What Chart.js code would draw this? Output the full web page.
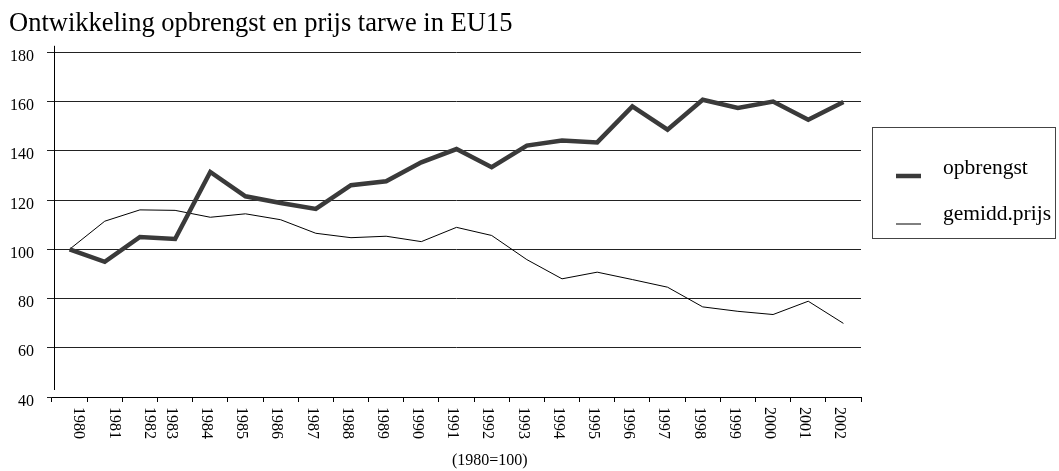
<!DOCTYPE html>
<html>
<head>
<meta charset="utf-8">
<script src="https://cdn.jsdelivr.net/npm/chart.js@4.4.1/dist/chart.umd.min.js"></script>
<style>
    html, body { margin: 0; padding: 0; background: #fff; }
    #wrap { position: relative; width: 1059px; height: 471px; }
</style>
</head>
<body>
<div id="wrap"><canvas id="chart"></canvas></div>
<script>
const years = ['1980', '1981', '1982', '1983', '1984', '1985', '1986', '1987', '1988', '1989', '1990', '1991',
    '1992', '1993', '1994', '1995', '1996', '1997', '1998', '1999', '2000', '2001', '2002'];
const opbrengst = [100, 94.9, 105.0, 104.2, 131.4, 121.5, 118.8, 116.4, 126.0, 127.6, 135.3, 140.7,
    133.3, 142.1, 144.2, 143.4, 158.0, 148.6, 160.7, 157.4, 160.0, 152.6, 159.8];
const prijs = [100, 111.4, 116.0, 115.8, 113.0, 114.4, 112.0, 106.5, 104.7, 105.3, 103.1, 108.9,
    105.6, 95.8, 88.0, 90.7, 87.7, 84.6, 76.6, 74.8, 73.5, 78.9, 69.9];
const yTicks = [40, 60, 80, 100, 120, 140, 160, 180];
const seriesNames = ['opbrengst', 'gemidd.prijs'];

const SERIF = '"Liberation Serif", "DejaVu Serif", serif';

// axis line, tick labels, legend and footnote drawn by hand to match the Excel look
const excelDecor = {
    id: 'excelDecor',
    afterDraw(chart) {
        const { ctx, chartArea, scales } = chart;
        const x = scales.x, y = scales.y;
        ctx.save();

        // vertical axis, slightly inset and shorter than the plot area
        ctx.strokeStyle = '#000';
        ctx.lineWidth = 1;
        ctx.beginPath();
        ctx.moveTo(chartArea.left + 2.5, chartArea.top - 6.5);
        ctx.lineTo(chartArea.left + 2.5, chartArea.bottom - 7);
        ctx.stroke();

        ctx.fillStyle = '#000';
        ctx.font = '16px ' + SERIF;

        // y labels
        ctx.textAlign = 'right';
        ctx.textBaseline = 'middle';
        yTicks.forEach(v => {
            ctx.fillText(String(v), 34, y.getPixelForValue(v) + 4.5);
        });

        // x labels, rotated clockwise
        years.forEach((yr, i) => {
            const dx = i < 3 ? 9 : -4;
            ctx.save();
            ctx.translate(x.getPixelForValue(i) + dx, chartArea.bottom + 10);
            ctx.rotate(Math.PI / 2);
            ctx.textAlign = 'left';
            ctx.textBaseline = 'middle';
            ctx.fillText(yr, 0, 0);
            ctx.restore();
        });

        // footnote
        ctx.textAlign = 'left';
        ctx.textBaseline = 'middle';
        ctx.fillText('(1980=100)', 452, 461);

        // legend
        ctx.strokeStyle = '#444';
        ctx.lineWidth = 1;
        ctx.strokeRect(872.5, 127.5, 183, 111);
        const rows = [176, 224];
        const baselines = [173.5, 220];
        ctx.font = '21.5px ' + SERIF;
        ctx.textBaseline = 'alphabetic';
        chart.data.datasets.forEach((ds, i) => {
            ctx.strokeStyle = ds.borderColor;
            ctx.lineWidth = ds.borderWidth;
            ctx.beginPath();
            ctx.moveTo(896, rows[i]);
            ctx.lineTo(921, rows[i]);
            ctx.stroke();
            ctx.fillStyle = '#000';
            ctx.fillText(ds.label, 943, baselines[i]);
        });

        ctx.restore();
    }
};

new Chart(document.getElementById('chart'), {
    type: 'line',
    data: {
        labels: years,
        datasets: [
            {
                label: seriesNames[0],
                data: opbrengst,
                borderColor: '#3a3a3a',
                borderWidth: 4.5,
                pointRadius: 0,
                tension: 0,
                borderJoinStyle: 'miter'
            },
            {
                label: seriesNames[1],
                data: prijs,
                borderColor: '#000',
                borderWidth: 1,
                pointRadius: 0,
                tension: 0
            }
        ]
    },
    options: {
        responsive: true,
        maintainAspectRatio: false,
        animation: false,
        layout: { padding: { top: 0, right: 198, bottom: 0, left: 9 } },
        plugins: {
            legend: { display: false },
            tooltip: { enabled: false },
            title: {
                display: true,
                text: 'Ontwikkeling opbrengst en prijs tarwe in EU15',
                align: 'start',
                color: '#000',
                font: { family: SERIF, size: 26.5, weight: 'normal', lineHeight: 1.2 },
                padding: { top: 8.5, bottom: 12 }
            }
        },
        scales: {
            x: {
                type: 'category',
                offset: true,
                grid: {
                    display: true,
                    offset: true,
                    drawOnChartArea: false,
                    drawTicks: true,
                    tickLength: 5,
                    color: '#000'
                },
                border: { display: true, color: '#000', width: 1 },
                ticks: { display: false },
                afterFit(scale) { scale.height = 74; }
            },
            y: {
                min: 40,
                max: 180,
                afterBuildTicks(scale) { scale.ticks = yTicks.map(v => ({ value: v })); },
                grid: {
                    display: true,
                    drawTicks: true,
                    tickLength: 5,
                    color: '#222',
                    lineWidth: 1
                },
                border: { display: false },
                ticks: { display: false },
                afterFit(scale) { scale.width = 43; }
            }
        }
    },
    plugins: [excelDecor]
});
</script>
</body>
</html>
